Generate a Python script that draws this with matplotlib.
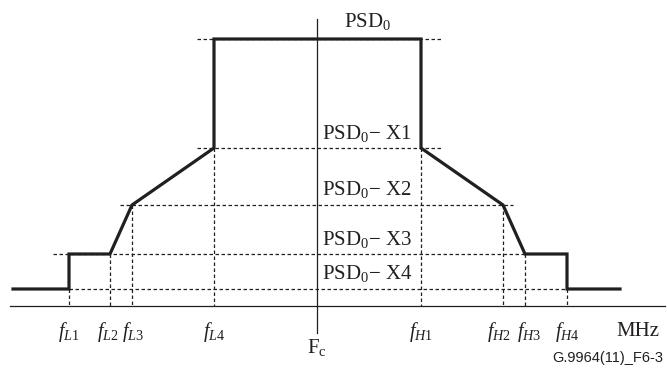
import matplotlib.pyplot as plt

plt.rcParams['mathtext.fontset'] = 'custom'
plt.rcParams['mathtext.rm'] = 'Liberation Serif'
plt.rcParams['mathtext.it'] = 'Liberation Serif:italic'

# Frequencies (horizontal position units) and levels (vertical units above the axis)
f_low = [69, 110, 132, 214]      # fL1..fL4
f_high = [421, 503, 525, 567]    # fH1..fH4
f_c = 317
f_start, f_end = 13, 620
lev_psd0 = 267
lev_x = [158, 101, 52, 17]       # PSD0-X1..X4

low_labels = [r'$f_{L1}$', r'$f_{L2}$', r'$f_{L3}$', r'$f_{L4}$']
high_labels = [r'$f_{H1}$', r'$f_{H2}$', r'$f_{H3}$', r'$f_{H4}$']
level_labels = [r'PSD$_0$' + '\u2212 X1', r'PSD$_0$' + '\u2212 X2',
                r'PSD$_0$' + '\u2212 X3', r'PSD$_0$' + '\u2212 X4']
# small nudges so the crowded labels do not collide
label_shift = [0, -2, 1, 0, 0, -4, 4, 0]

ink = '#231f20'
dash = (0, (2.8, 2))

fig = plt.figure(figsize=(6.67, 3.69), dpi=100)
ax = fig.add_axes([0, 0, 1, 1])
ax.set_xlim(0, 667)
ax.set_ylim(-63, 306)
ax.axis('off')

x1, x2, x3, x4 = lev_x
l1, l2, l3, l4 = f_low
h1, h2, h3, h4 = f_high

# mask outline
xs = [f_start, l1, l1, l2, l3, l4, l4, h1, h1, h2, h3, h4, h4, f_end]
ys = [x4, x4, x3, x3, x2, x1, lev_psd0, lev_psd0, x1, x2, x3, x3, x4, x4]
ax.plot(xs, ys, color=ink, lw=2.3, solid_joinstyle='miter', zorder=3)

# horizontal dashed reference lines
ax.plot([l4 - 17, h1 + 20], [lev_psd0, lev_psd0], color=ink, lw=0.9, ls=dash)
ax.plot([l4 - 17, h1 + 20], [x1, x1], color=ink, lw=0.9, ls=dash)
ax.plot([l3 - 12, h2 + 10], [x2, x2], color=ink, lw=0.9, ls=dash)
ax.plot([l1 - 16, h3], [x3, x3], color=ink, lw=0.9, ls=dash)
ax.plot([l1, h4], [x4, x4], color=ink, lw=0.9, ls=dash)

# vertical dashed drops to the axis
for f, lev in zip(f_low, [x4, x3, x2, x1]):
    ax.plot([f, f], [lev, 0], color=ink, lw=0.9, ls=dash)
for f, lev in zip(f_high, [x1, x2, x3, x4]):
    ax.plot([f, f], [lev, 0], color=ink, lw=0.9, ls=dash)

# axes lines
ax.plot([10, 665], [0, 0], color=ink, lw=0.9)
ax.plot([f_c, f_c], [-27, 287], color=ink, lw=0.9)

serif = 'Liberation Serif'
ax.text(368, lev_psd0 + 17, r'PSD$_0$', fontsize=15, family=serif,
        ha='center', va='center', color=ink)
for lev, lab in zip(lev_x, level_labels):
    ax.text(322, lev + 15, lab, fontsize=15, family=serif,
            ha='left', va='center', color=ink)

for f, lab, dx in zip(f_low + f_high, low_labels + high_labels, label_shift):
    ax.text(f + dx, -26, lab, fontsize=14.5, family=serif,
            ha='center', va='center', color=ink)
ax.text(f_c, -41, r'F$_\mathrm{c}$', fontsize=15, family=serif,
        ha='center', va='center', color=ink)
ax.text(638, -25, 'MHz', fontsize=15, family=serif,
        ha='center', va='center', color=ink)
ax.text(663, -52, 'G.9964(11)_F6-3', fontsize=10.5, family='Liberation Sans',
        ha='right', va='center', color=ink)

fig.savefig('out.png', dpi=100)
